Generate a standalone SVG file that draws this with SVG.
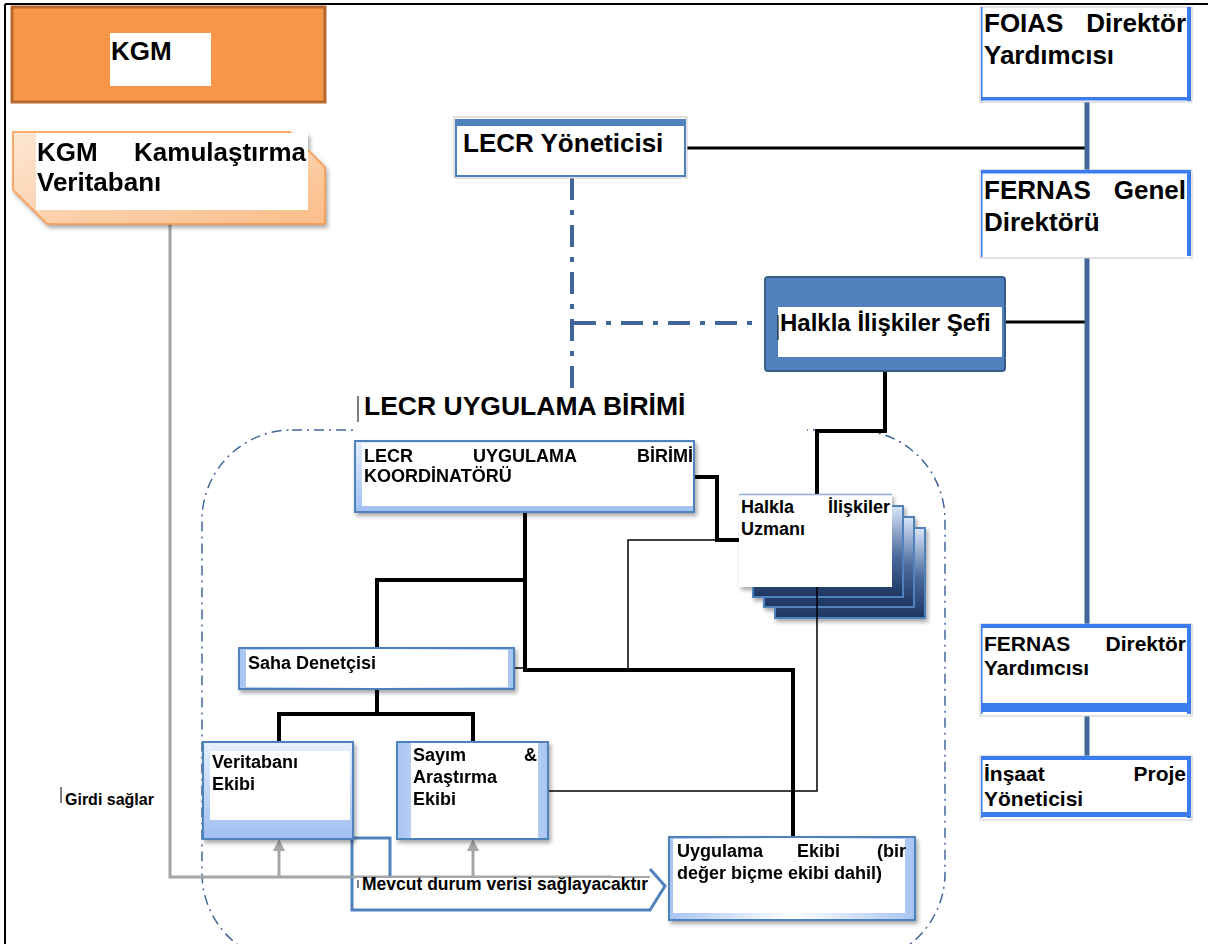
<svg xmlns="http://www.w3.org/2000/svg" width="1208" height="944" viewBox="0 0 1208 944">
<defs>
<style>
text{font-family:"Liberation Sans",Arial,sans-serif;font-weight:bold;fill:#000}
.t27{font-size:26.5px}.t26{font-size:26px}.t24{font-size:24px}.t21{font-size:21px}.t18{font-size:18px}.t16{font-size:16px}.t17{font-size:17.5px}
.end{text-anchor:end}
.blk{stroke:#000;fill:none;stroke-width:4}
.thin{stroke:#000;fill:none;stroke-width:1.5}
.bb{fill:#3b7df0}
.rbox{fill:#fff;stroke:#c8c8c8;stroke-width:1}
.dd{stroke:#41679a;fill:none;stroke-width:4;stroke-dasharray:22 10 5 10}
.spine{stroke:#41679a;stroke-width:5}
.gah{fill:#a6a6a6}
</style>
<linearGradient id="gOr" x1="0" y1="0" x2="1" y2="1"><stop offset="0" stop-color="#fde7d4"/><stop offset="1" stop-color="#fbbd88"/></linearGradient>
<linearGradient id="gV" x1="0" y1="0" x2="0" y2="1"><stop offset="0" stop-color="#e6effc"/><stop offset="1" stop-color="#9fbff2"/></linearGradient>
<linearGradient id="gH" x1="0" y1="0" x2="1" y2="0"><stop offset="0" stop-color="#a7c4f2"/><stop offset="0.5" stop-color="#ffffff"/><stop offset="1" stop-color="#a7c4f2"/></linearGradient>
<linearGradient id="gStack" x1="0" y1="0" x2="0" y2="1"><stop offset="0" stop-color="#dbe7fb"/><stop offset="0.55" stop-color="#4a6a9c"/><stop offset="1" stop-color="#1d3561"/></linearGradient>
<filter id="sh" x="-10%" y="-10%" width="130%" height="140%"><feDropShadow dx="2" dy="3" stdDeviation="2" flood-color="#000" flood-opacity="0.35"/></filter>
</defs>
<rect width="1208" height="944" fill="#fff"/>
<g id="frame"><line x1="5" y1="4" x2="1208" y2="4" stroke="#000" stroke-width="2"/><line x1="5" y1="4" x2="5" y2="944" stroke="#000" stroke-width="2"/></g>

<g id="container">
<rect x="202" y="430" width="743" height="533" rx="90" fill="none" stroke="#41679a" stroke-width="1.5" stroke-dasharray="10 5 2 5"/>
</g>

<g id="connectors">
<polyline points="170,222 170,877 612,877" fill="none" stroke="#a6a6a6" stroke-width="3"/>
<line x1="279" y1="877" x2="279" y2="848" stroke="#a6a6a6" stroke-width="3"/>
<polygon class="gah" points="279,839 273,851 285,851"/>
<line x1="473" y1="877" x2="473" y2="848" stroke="#a6a6a6" stroke-width="3"/>
<polygon class="gah" points="473,839 467,851 479,851"/>
<line x1="687" y1="148" x2="1087" y2="148" stroke="#000" stroke-width="3"/>
<line x1="1005" y1="322" x2="1087" y2="322" stroke="#000" stroke-width="3"/>
<line class="spine" x1="1087" y1="102" x2="1087" y2="170"/>
<line class="spine" x1="1087" y1="258" x2="1087" y2="624"/>
<line class="spine" x1="1087" y1="716" x2="1087" y2="756"/>
<line class="dd" x1="572" y1="178" x2="572" y2="392"/>
<line class="dd" x1="574" y1="323" x2="762" y2="323"/>
<polyline class="blk" points="885,371 885,431 817,431 817,495"/>
<polyline class="blk" points="694,477 717,477 717,540 739,540"/>
<polyline class="thin" points="628,668 628,540 717,540"/>
<line class="blk" x1="525" y1="512" x2="525" y2="670"/>
<polyline class="blk" points="525,580 377,580 377,648"/>
<polyline class="blk" points="523,670 793,670 793,837"/>
<line class="thin" x1="514" y1="668" x2="525" y2="668"/>
<line class="blk" x1="377" y1="689" x2="377" y2="714"/>
<polyline class="blk" points="279,742 279,714 473,714 473,742"/>
<polyline points="390,877 390,838 352,838 352,910 650,910 665,886 650,869" fill="none" stroke="#4f81bd" stroke-width="3"/>
</g>

<g id="title">
<rect x="355" y="388" width="452" height="46" fill="#fff"/>
<line x1="358" y1="396" x2="358" y2="422" stroke="#000" stroke-width="1"/>
<text class="t27" x="364" y="415">LECR UYGULAMA BİRİMİ</text>
</g>

<g id="kgm">
<rect x="12" y="7" width="313" height="95" fill="#f79646" stroke="#b5692f" stroke-width="3"/>
<rect x="110" y="33" width="101" height="53" fill="#fff"/>
<text class="t26" x="111" y="60">KGM</text>
</g>

<g id="kgm-db" filter="url(#sh)">
<path d="M13,132 H290 L325,167 V224 H47 L13,190 Z" fill="url(#gOr)" stroke="#f79646" stroke-width="1.5"/>
<rect x="36" y="133" width="272" height="77" fill="#fff"/>
<text class="t26" x="37" y="161">KGM</text><text class="t26 end" x="306" y="161">Kamulaştırma</text>
<text class="t26" x="37" y="191">Veritabanı</text>
</g>

<g id="girdi">
<line x1="61" y1="787" x2="61" y2="803" stroke="#000" stroke-width="1"/>
<text class="t16" x="65" y="805">Girdi sağlar</text>
</g>

<g id="lecr-yonetici">
<rect x="454" y="117" width="233" height="61" fill="#fff" stroke="#c8c8c8"/>
<rect x="456" y="120" width="229" height="56" fill="none" stroke="#4f81bd" stroke-width="2"/>
<rect x="456" y="119" width="229" height="7" fill="#4f81bd"/>
<text class="t26" x="463" y="152">LECR Yöneticisi</text>
</g>

<g id="foias">
<rect class="rbox" x="980" y="7" width="212" height="95"/>
<rect class="bb" x="981" y="7" width="1.5" height="94"/><rect class="bb" x="1187" y="7" width="4" height="94"/><rect class="bb" x="981" y="97" width="210" height="3.5"/>
<text class="t26" x="984" y="32">FOIAS</text><text class="t26 end" x="1186" y="32">Direktör</text>
<text class="t26" x="984" y="64">Yardımcısı</text>
</g>

<g id="fernas-genel">
<rect class="rbox" x="980" y="170" width="212" height="88"/>
<rect class="bb" x="981" y="170" width="210" height="3.5"/><rect class="bb" x="981" y="170" width="1.5" height="87"/><rect class="bb" x="1187" y="170" width="4" height="86"/>
<text class="t26" x="984" y="199">FERNAS</text><text class="t26 end" x="1186" y="199">Genel</text>
<text class="t26" x="984" y="231">Direktörü</text>
</g>

<g id="fernas-dir">
<rect class="rbox" x="980" y="624" width="212" height="92"/>
<rect class="bb" x="981" y="624" width="210" height="4"/><rect class="bb" x="981" y="624" width="1.5" height="90"/><rect class="bb" x="1187" y="624" width="4" height="90"/><rect class="bb" x="981" y="703" width="210" height="9"/>
<text class="t21" x="984" y="651">FERNAS</text><text class="t21 end" x="1186" y="651">Direktör</text>
<text class="t21" x="984" y="675">Yardımcısı</text>
</g>

<g id="insaat">
<rect class="rbox" x="980" y="756" width="212" height="64"/>
<rect class="bb" x="981" y="756" width="210" height="4"/><rect class="bb" x="981" y="756" width="1.5" height="62"/><rect class="bb" x="1187" y="756" width="4" height="62"/><rect class="bb" x="981" y="812" width="210" height="5"/>
<text class="t21" x="984" y="781">İnşaat</text><text class="t21 end" x="1186" y="781">Proje</text>
<text class="t21" x="984" y="806">Yöneticisi</text>
</g>

<g id="halkla-sefi">
<rect x="765" y="277" width="240" height="94" rx="3" fill="#4f81bd" stroke="#385d8a" stroke-width="2"/>
<rect x="778" y="307" width="224" height="50" fill="#fff"/>
<line x1="778" y1="315" x2="778" y2="340" stroke="#000" stroke-width="1"/>
<text class="t24" x="780" y="331">Halkla İlişkiler Şefi</text>
</g>

<g id="koordinator" filter="url(#sh)">
<rect x="355" y="441" width="339" height="71" fill="url(#gV)" stroke="#4f81bd" stroke-width="2"/>
<rect x="362" y="443" width="331" height="63" fill="#fff"/>
<text class="t18" x="364" y="462">LECR</text><text class="t18" x="473" y="462">UYGULAMA</text><text class="t18 end" x="693" y="462">BİRİMİ</text>
<text class="t18" x="364" y="482">KOORDİNATÖRÜ</text>
</g>

<g id="halkla-uzman">
<g filter="url(#sh)">
<rect x="775" y="528" width="150" height="90" fill="url(#gStack)" stroke="#4f81bd" stroke-width="2"/>
<rect x="764" y="517" width="150" height="90" fill="url(#gStack)" stroke="#4f81bd" stroke-width="2"/>
<rect x="753" y="506" width="150" height="91" fill="url(#gStack)" stroke="#4f81bd" stroke-width="2"/>
<rect x="739" y="494" width="153" height="93" fill="#fff"/>
</g>
<line x1="739" y1="494.5" x2="892" y2="494.5" stroke="#8fb0e0" stroke-width="1.5"/>
<text class="t18" x="741" y="513">Halkla</text><text class="t18 end" x="890" y="513">İlişkiler</text>
<text class="t18" x="741" y="535">Uzmanı</text>
</g>
<polyline class="thin" points="817,587 817,791 548,791"/>

<g id="saha" filter="url(#sh)">
<rect x="239" y="648" width="275" height="41" fill="url(#gH)" stroke="#4f81bd" stroke-width="2"/>
<rect x="246" y="650" width="262" height="37" fill="#fff"/>
<text class="t18" x="248" y="669">Saha Denetçisi</text>
</g>

<g id="veritabani" filter="url(#sh)">
<rect x="203" y="742" width="150" height="97" fill="url(#gV)" stroke="#4f81bd" stroke-width="2"/>
<rect x="210" y="751" width="140" height="69" fill="#fff"/>
<text class="t18" x="212" y="768">Veritabanı</text>
<text class="t18" x="212" y="790">Ekibi</text>
</g>

<g id="sayim" filter="url(#sh)">
<rect x="397" y="742" width="151" height="97" fill="url(#gH)" stroke="#4f81bd" stroke-width="2"/>
<rect x="411" y="743" width="127" height="95" fill="#fff"/>
<text class="t18" x="413" y="761">Sayım</text><text class="t18 end" x="537" y="761">&amp;</text>
<text class="t18" x="413" y="783">Araştırma</text>
<text class="t18" x="413" y="805">Ekibi</text>
</g>

<g id="mevcut">
<rect x="356" y="878" width="294" height="28" fill="#fff"/>
<line x1="170" y1="877" x2="650" y2="877" stroke="#a6a6a6" stroke-width="2"/>
<line x1="358" y1="880" x2="358" y2="888" stroke="#000" stroke-width="1"/>
<text class="t17" x="362" y="890">Mevcut durum verisi sağlayacaktır</text>
</g>

<g id="uygulama" filter="url(#sh)">
<rect x="669" y="837" width="246" height="83" fill="url(#gH)" stroke="#4f81bd" stroke-width="2"/>
<rect x="673" y="839" width="232" height="74" fill="#fff"/>
<text class="t18" x="677" y="857">Uygulama</text><text class="t18" x="797" y="857">Ekibi</text><text class="t18 end" x="906" y="857">(bir</text>
<text class="t18" x="677" y="879">değer biçme ekibi dahil)</text>
</g>
</svg>
